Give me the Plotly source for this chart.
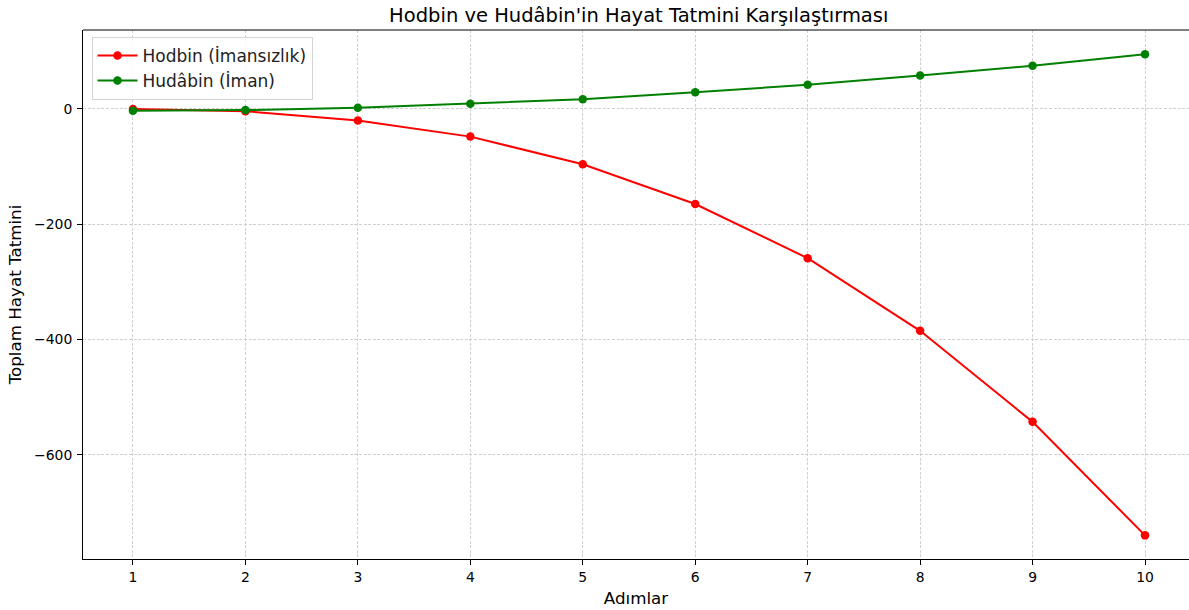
import plotly.graph_objects as go

# Data
steps = [1, 2, 3, 4, 5, 6, 7, 8, 9, 10]
hodbin = [0, -4, -20, -48, -96, -165, -259, -385, -543, -740]
hudabin = [-3, -2, 2, 9, 17, 29, 42, 58, 75, 95]

series_names = ["Hodbin (İmansızlık)", "Hudâbin (İman)"]
series_colors = ["#ff0000", "#008000"]

y_tickvals = [-600, -400, -200, 0]
y_ticktext = ["\u2212600", "\u2212400", "\u2212200", "0"]

title_text = "Hodbin ve Hudâbin'in Hayat Tatmini Karşılaştırması"
x_title = "Adımlar"
y_title = "Toplam Hayat Tatmini"

FONT = "DejaVu Sans"
W, H = 1189, 610

fig = go.Figure()
for name, vals, col in zip(series_names, [hodbin, hudabin], series_colors):
    fig.add_trace(go.Scatter(
        x=steps, y=vals, name=name, mode="lines+markers",
        line=dict(color=col, width=2),
        marker=dict(color=col, size=8.5, symbol="circle"),
    ))

fig.update_layout(
    width=W, height=H,
    margin=dict(l=82.5, r=0, t=30, b=51),
    paper_bgcolor="white", plot_bgcolor="white",
    font=dict(family=FONT, color="black", size=14),
    title=dict(text=title_text, x=0.5025, xref="paper", y=1 - 15 / H,
               yref="container", xanchor="center", yanchor="middle",
               font=dict(family=FONT, size=19.5, color="black")),
    showlegend=True,
    legend=dict(x=0.0077, y=0.987, xanchor="left", yanchor="top",
                bgcolor="rgba(255,255,255,0.85)", bordercolor="#d5d5d5",
                borderwidth=1, font=dict(family=FONT, size=17, color="#222"),
                tracegroupgap=0, itemwidth=40),
    # top spine (the right spine of the original lies just outside the window)
    shapes=[dict(type="line", xref="paper", yref="paper", x0=0, x1=1, y0=1, y1=1,
                 line=dict(color="black", width=1), layer="above")],
)

fig.update_xaxes(
    range=[0.5556, 10.391], tickmode="array", tickvals=steps,
    ticktext=[str(s) for s in steps],
    ticks="outside", ticklen=5, tickcolor="black", tickwidth=1,
    showline=True, linecolor="black", linewidth=1, mirror=False,
    showgrid=True, gridcolor="#d0d0d0", griddash="3px,1.6px", gridwidth=1,
    zeroline=False,
    tickfont=dict(family=FONT, size=13.9, color="black"),
    title=dict(text=x_title, font=dict(family=FONT, size=16.7, color="black"),
               standoff=8),
)
fig.update_yaxes(
    range=[-781, 137], tickmode="array", tickvals=y_tickvals, ticktext=y_ticktext,
    ticks="outside", ticklen=5, tickcolor="black", tickwidth=1,
    showline=True, linecolor="black", linewidth=1, mirror=False,
    showgrid=True, gridcolor="#d0d0d0", griddash="3px,1.6px", gridwidth=1,
    zeroline=False, ticklabelstandoff=2,
    tickfont=dict(family=FONT, size=13.9, color="black"),
    title=dict(text=y_title, font=dict(family=FONT, size=16.7, color="black"),
               standoff=8),
)

# remove the default page margin so the 1189x610 figure fills the window exactly
fig.write_html(
    "out.html",
    config={"displayModeBar": False},
    post_script="document.body.style.margin='0';document.body.style.overflow='hidden';",
)
